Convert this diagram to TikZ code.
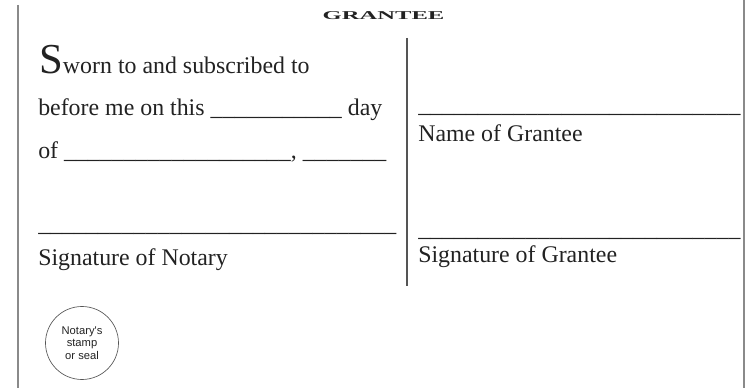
\documentclass[tikz,border=0pt]{standalone}
\usepackage{fontspec}
\setmainfont{Liberation Serif}
\newfontfamily\stampfont{Liberation Sans}
\usepackage{tikz}

\definecolor{inkgray}{HTML}{222222}
\definecolor{edgegray}{HTML}{8A8A8A}
\definecolor{midgray}{HTML}{555555}
\newcommand{\fillblank}[1]{\foreach \k in {1,...,#1}{\_}}

\begin{document}
\begin{tikzpicture}[x=0.75pt,y=0.75pt,yscale=-1,xscale=1]
\tikzset{formtext/.style={anchor=base west, inner sep=0pt, text=inkgray, font=\fontsize{17.9}{21}\selectfont},
  stamp/.style={circle, draw=midgray, line width=0.5, minimum size=54.75pt, inner sep=0pt, align=center, text=inkgray, font=\stampfont\fontsize{8.4}{9.2}\selectfont}}
\useasboundingbox (0,0) rectangle (746,388);

%Straight Lines [left edge]
\draw [color=edgegray, line width=1.6]    (18,5) -- (18,388) ;
%Straight Lines [right edge]
\draw [color=edgegray, line width=1.6]    (744,0) -- (744,388) ;
%Straight Lines [middle rule]
\draw [color=midgray, line width=1]    (407,38) -- (407,286) ;

%Text: heading
\node [anchor=base, inner sep=0pt, text=inkgray] (title) at (383.5,20) {\scalebox{2.05}[1]{\fontsize{9}{10}\selectfont\bfseries GRANTEE}};

%Text: notary block
\node [formtext] (sworn) at (39,74) {{\fontsize{32}{34}\selectfont S}worn to and subscribed to};
\node [formtext] (before) at (38,116) {before me on this \fillblank{11} day};
\node [formtext] (ofdate) at (38,159) {of \fillblank{19}, \fillblank{7}};
\node [formtext] (notline) at (38,232) {\fillblank{30}};
\node [formtext] (notsig) at (38,266) {Signature of Notary};

%Text: grantee block
\node [formtext] (nameline) at (418,113) {\fillblank{27}};
\node [formtext] (name) at (418,142) {Name of Grantee};
\node [formtext] (gsigline) at (418,237) {\fillblank{27}};
\node [formtext] (gsig) at (418,263) {Signature of Grantee};

%Shape: Circle [seal]
\node [stamp] (seal) at (82,343) {Notary's\\stamp\\or seal};

\end{tikzpicture}
\end{document}
